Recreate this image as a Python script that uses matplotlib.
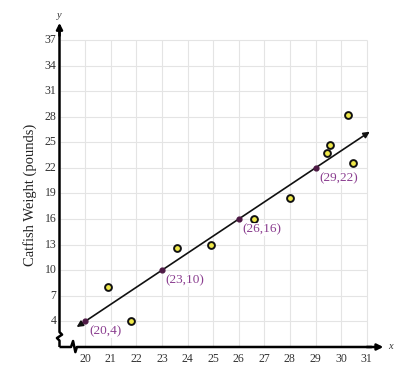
import matplotlib
matplotlib.use("Agg")
import matplotlib.pyplot as plt
import numpy as np

# scatter data (length in inches vs catfish weight)
x_obs = [20.9, 21.8, 23.6, 24.9, 26.6, 28.0, 29.55, 29.45, 30.25, 30.45]
y_obs = [8.0, 4.1, 12.6, 13.0, 16.0, 18.5, 24.7, 23.7, 28.2, 22.6]

# labelled points on the line of fit
line_x = [20, 23, 26, 29]
line_y = [4, 10, 16, 22]
line_labels = ["(20,4)", "(23,10)", "(26,16)", "(29,22)"]

x_ticks = list(range(20, 32))
y_ticks = list(range(4, 38, 3))

slope, intercept = 2, -36

serif = ["Liberation Serif", "DejaVu Serif"]
purple = "#8a3d8f"

fig = plt.figure(figsize=(4.08, 3.67), dpi=100)
ax = fig.add_axes([59.5 / 408, 20 / 367, 13 * 25.6 / 408, 39 * 8.53 / 367])
ax.set_xlim(19, 32)
ax.set_ylim(1, 40)
for s in ax.spines.values():
    s.set_visible(False)
ax.set_xticks([])
ax.set_yticks([])

# grid
grid_c = "#e4e4e4"
ax.vlines(x_ticks, 1, 37, color=grid_c, lw=0.8, zorder=0)
ax.hlines(y_ticks, 19, 31, color=grid_c, lw=0.8, zorder=0)

# tick labels
for xv in x_ticks:
    ax.text(xv, 0.35, str(xv), ha="center", va="top", fontsize=8.5,
            color="#333333", family=serif)
for yv in y_ticks:
    ax.text(18.88, yv, str(yv), ha="right", va="center", fontsize=8.5,
            color="#333333", family=serif)

# axes with break marks
ax.plot([19, 19, 18.9, 19.1, 19, 19], [1, 1.75, 2.05, 2.45, 2.75, 38.0],
        color="black", lw=1.8, solid_capstyle="butt", clip_on=False)
ax.plot([19, 19.45, 19.53, 19.62, 19.68, 31.2], [1, 1, 1.7, 0.4, 1, 1],
        color="black", lw=1.8, solid_capstyle="butt", clip_on=False)
ax.annotate("", xy=(19, 39.0), xytext=(19, 37.5),
            arrowprops=dict(arrowstyle="-|>", color="black", lw=1.8,
                            mutation_scale=9, shrinkA=0, shrinkB=0),
            annotation_clip=False)
ax.annotate("", xy=(31.65, 1), xytext=(31.0, 1),
            arrowprops=dict(arrowstyle="-|>", color="black", lw=1.8,
                            mutation_scale=9, shrinkA=0, shrinkB=0),
            annotation_clip=False)
ax.text(19, 39.3, "y", ha="center", va="bottom", fontsize=7.5, style="italic",
        family=serif, color="#333333")
ax.text(31.85, 1.1, "x", ha="left", va="center", fontsize=7.5, style="italic",
        family=serif, color="#333333")

# line of best fit with arrows at both ends
x0, x1 = 19.67, 31.12
ax.annotate("", xy=(x1, slope * x1 + intercept), xytext=(x0, slope * x0 + intercept),
            arrowprops=dict(arrowstyle="<|-|>", color="#111111", lw=1.2,
                            mutation_scale=9, shrinkA=0, shrinkB=0),
            annotation_clip=False)

ax.scatter(x_obs, y_obs, s=24, color="#efe84a", edgecolor="#111111",
           linewidth=1.4, zorder=3, clip_on=False)

ax.scatter(line_x, line_y, s=12, color="#4e1a45", zorder=4)
for xv, yv, lab in zip(line_x, line_y, line_labels):
    ax.text(xv + 0.15, yv - 0.5, lab, ha="left", va="top", fontsize=9.5,
            color=purple, family=serif, zorder=5,
            bbox=dict(facecolor="white", edgecolor="none", pad=0.3, alpha=0.9))

fig.text(30 / 408, 1 - 195 / 367, "Catfish Weight (pounds)", rotation=90,
         ha="center", va="center", fontsize=10.5, family=serif, color="#222222")

fig.savefig("out.png", dpi=100)
